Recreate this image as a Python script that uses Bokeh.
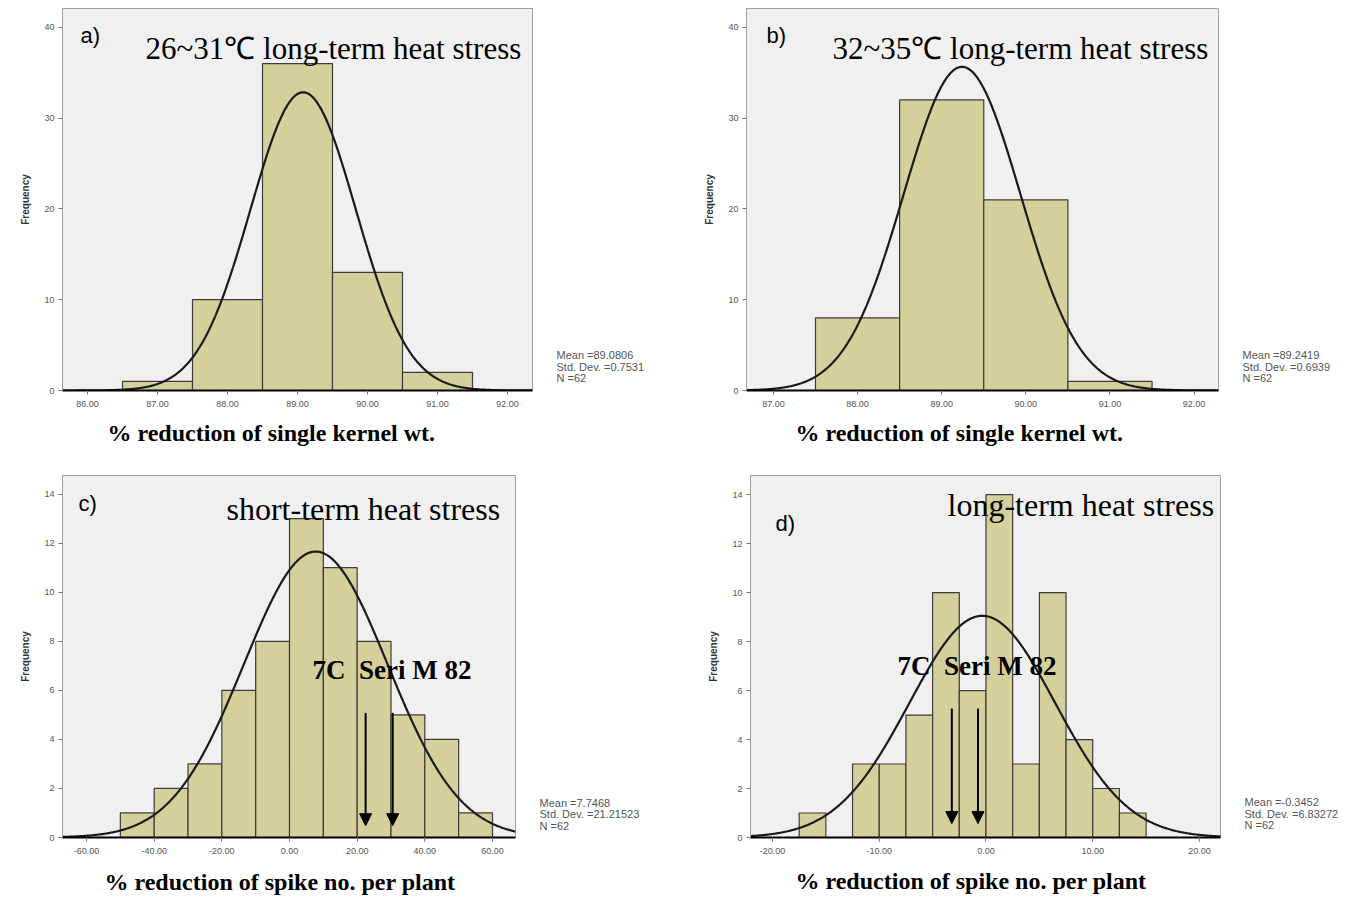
import numpy as np
from bokeh.plotting import figure
from bokeh.layouts import column, row
from bokeh.models import (Range1d, FixedTicker, NumeralTickFormatter, Label, Arrow, NormalHead,
                          LinearAxis, Title)
from bokeh.embed import file_html
from bokeh.resources import INLINE

N = 62

# ---- panel a: 26~31 C long-term, % reduction of single kernel wt.
a_edges = [86.5, 87.5, 88.5, 89.5, 90.5, 91.5]
a_counts = [1, 10, 36, 13, 2]
a_mean, a_sd = 89.0806, 0.7531
a_xticks = [86, 87, 88, 89, 90, 91, 92]
a_yticks = [0, 10, 20, 30, 40]
a_stats = ["Mean =89.0806", "Std. Dev. =0.7531", "N =62"]

# ---- panel b: 32~35 C long-term
b_edges = [87.5, 88.5, 89.5, 90.5, 91.5]
b_counts = [8, 32, 21, 1]
b_mean, b_sd = 89.2419, 0.6939
b_xticks = [87, 88, 89, 90, 91, 92]
b_yticks = [0, 10, 20, 30, 40]
b_stats = ["Mean =89.2419", "Std. Dev. =0.6939", "N =62"]

# ---- panel c: short-term, % reduction of spike no. per plant
c_edges = [-50, -40, -30, -20, -10, 0, 10, 20, 30, 40, 50, 60]
c_counts = [1, 2, 3, 6, 8, 13, 11, 8, 5, 4, 1]
c_mean, c_sd = 7.7468, 21.21523
c_xticks = [-60, -40, -20, 0, 20, 40, 60]
c_yticks = [0, 2, 4, 6, 8, 10, 12, 14]
c_stats = ["Mean =7.7468", "Std. Dev. =21.21523", "N =62"]
c_arrows = [22.5, 30.5]

# ---- panel d: long-term, % reduction of spike no. per plant
d_edges = [-17.5, -15, -12.5, -10, -7.5, -5, -2.5, 0, 2.5, 5, 7.5, 10, 12.5, 15]
d_counts = [1, 0, 3, 3, 5, 10, 6, 14, 3, 10, 4, 2, 1]
d_mean, d_sd = -0.3452, 6.83272
d_xticks = [-20, -10, 0, 10, 20]
d_yticks = [0, 2, 4, 6, 8, 10, 12, 14]
d_stats = ["Mean =-0.3452", "Std. Dev. =6.83272", "N =62"]
d_arrows = [-3.2, -0.75]

NOTE = "7C\u00a0\u00a0Seri M 82"

BAR = "#D4CF9B"
BG = "#F0F0F0"
SERIF = "Liberation Serif"
SANS = "Liberation Sans"


class Panel:
    def __init__(self, x0, y0, width, height, bl, br, bt, bb, xr, yr):
        self.x0, self.y0 = x0, y0
        self.bl, self.bt = bl, bt
        self.fw = width - bl - br
        self.fh = height - bt - bb
        self.xr, self.yr = xr, yr
        p = figure(width=width, height=height, output_backend="svg", toolbar_location=None,
                   x_range=Range1d(*xr), y_range=Range1d(*yr),
                   min_border_left=bl, min_border_right=br, min_border_top=bt, min_border_bottom=bb)
        p.background_fill_color = BG
        p.border_fill_color = "white"
        p.outline_line_color = "#A0A0A0"
        p.outline_line_width = 1
        p.xgrid.visible = False
        p.ygrid.visible = False
        self.p = p

    def dx(self, px):
        return self.xr[0] + (px - self.x0 - self.bl) / self.fw * (self.xr[1] - self.xr[0])

    def dy(self, py):
        return self.yr[0] + (self.y0 + self.bt + self.fh - py) / self.fh * (self.yr[1] - self.yr[0])

    def up(self, py):
        # pixels above the frame bottom
        return int(round(self.y0 + self.bt + self.fh - py))


def build(pn, edges, counts, mean, sd, xticks, yticks, stats, xlabel, xlabel_off, xlabel_gap, tag, tag_xy,
          title, title_size, title_xy, stats_y, arrows=None, arrow_px=None, note_xy=None):
    p = pn.p
    edges = np.array(edges, dtype=float)
    p.quad(left=edges[:-1], right=edges[1:], top=counts, bottom=0,
           fill_color=BAR, line_color="#3C3C3C", line_width=1.2)
    bw = edges[1] - edges[0]
    xs = np.linspace(pn.xr[0], pn.xr[1], 500)
    ys = N * bw * np.exp(-0.5 * ((xs - mean) / sd) ** 2) / (sd * np.sqrt(2 * np.pi))
    p.line(xs, ys, line_color="#1A1A1A", line_width=2.2)

    xa = p.xaxis[0]
    xa.ticker = FixedTicker(ticks=xticks)
    xa.formatter = NumeralTickFormatter(format="0.00")
    xa.minor_tick_line_color = None
    xa.major_tick_line_color = "#777777"
    xa.major_tick_out = 4
    xa.major_tick_in = 0
    xa.axis_line_color = "black"
    xa.axis_line_width = 2
    xa.major_label_text_font = SANS
    xa.major_label_text_font_size = "9px"
    xa.major_label_text_color = "#555555"
    xa.major_label_standoff = 6

    ya = p.yaxis[0]
    ya.ticker = FixedTicker(ticks=yticks)
    ya.minor_tick_line_color = None
    ya.major_tick_line_color = "#777777"
    ya.major_tick_out = 4
    ya.major_tick_in = 0
    ya.axis_line_color = "#A0A0A0"
    ya.major_label_text_font = SANS
    ya.major_label_text_font_size = "9px"
    ya.major_label_text_color = "#555555"
    ya.major_label_standoff = 4
    ya.axis_label = "Frequency"
    ya.axis_label_text_font = SANS
    ya.axis_label_text_font_style = "bold"
    ya.axis_label_text_font_size = "10px"
    ya.axis_label_text_color = "#333333"
    ya.axis_label_standoff = 10

    # x-axis caption as a title below the axis
    t = Title(text=xlabel, align="left", offset=xlabel_off, text_font=SERIF, text_font_style="bold",
              text_font_size="24px", text_color="black", standoff=xlabel_gap)
    p.add_layout(t, "below")

    # statistics box on the right, as a tick-label-only axis
    p.extra_y_ranges = {"stats": Range1d(0, pn.fh)}
    ups = [pn.up(stats_y + i * 11.5) for i in range(3)]
    ra = LinearAxis(y_range_name="stats", ticker=FixedTicker(ticks=ups),
                    major_label_overrides={u: s for u, s in zip(ups, stats)})
    ra.axis_line_color = None
    ra.major_tick_line_color = None
    ra.minor_tick_line_color = None
    ra.major_tick_out = 0
    ra.major_tick_in = 0
    ra.major_label_standoff = 24
    ra.major_label_text_font = SANS
    ra.major_label_text_font_size = "11px"
    ra.major_label_text_color = "#555555"
    p.add_layout(ra, "right")

    p.add_layout(Label(x=pn.dx(tag_xy[0]), y=pn.dy(tag_xy[1]), text=tag,
                       text_font=SANS, text_font_size="22px", text_baseline="middle",
                       text_color="black"))
    p.add_layout(Label(x=pn.dx(title_xy[0]), y=pn.dy(title_xy[1]), text=title,
                       text_font=SERIF, text_font_size=title_size, text_baseline="middle",
                       text_color="black"))
    if arrows is not None:
        for ax in arrows:
            p.add_layout(Arrow(x_start=ax, y_start=pn.dy(arrow_px[0]), x_end=ax, y_end=pn.dy(arrow_px[1]),
                               line_color="black", line_width=2,
                               end=NormalHead(size=12, fill_color="black", line_color="black")))
        p.add_layout(Label(x=pn.dx(note_xy[0]), y=pn.dy(note_xy[1]), text=NOTE,
                           text_font=SERIF, text_font_style="bold", text_font_size="27px",
                           text_baseline="middle", text_color="black"))
    return p


pa = Panel(0, 0, 690, 455, 62, 158, 8, 65, (85.643, 92.357), (0, 42.07))
pb = Panel(690, 0, 666, 455, 56, 138, 8, 65, (86.68, 92.29), (0, 42.07))
pc = Panel(0, 455, 690, 449, 62, 175, 14, 66, (-67.1, 66.8), (0, 14.76))
pd_ = Panel(690, 455, 666, 449, 60, 136, 20, 64, (-22.06, 21.97), (0, 14.78))

fa = build(pa, a_edges, a_counts, a_mean, a_sd, a_xticks, a_yticks, a_stats,
           "% reduction of single kernel wt.", 45, 16, "a)", (80, 35),
           "26~31\u2103 long-term heat stress", "31px", (145, 48), 354)
fb = build(pb, b_edges, b_counts, b_mean, b_sd, b_xticks, b_yticks, b_stats,
           "% reduction of single kernel wt.", 49, 16, "b)", (766, 35),
           "32~35\u2103 long-term heat stress", "31px", (832, 48), 354)
fc = build(pc, c_edges, c_counts, c_mean, c_sd, c_xticks, c_yticks, c_stats,
           "% reduction of spike no. per plant", 42, 20, "c)", (78, 498),
           "short-term heat stress", "32px", (226, 503),
           803, arrows=c_arrows, arrow_px=(711, 826), note_xy=(312, 667))
fd = build(pd_, d_edges, d_counts, d_mean, d_sd, d_xticks, d_yticks, d_stats,
           "% reduction of spike no. per plant", 45, 18, "d)", (775, 523),
           "long-term heat stress", "32px", (947, 505),
           804, arrows=d_arrows, arrow_px=(710, 826), note_xy=(897, 667))

layout = column(row(fa, fb, spacing=0), row(fc, fd, spacing=0), spacing=0)

with open("out.html", "w") as f:
    f.write(file_html(layout, INLINE))
